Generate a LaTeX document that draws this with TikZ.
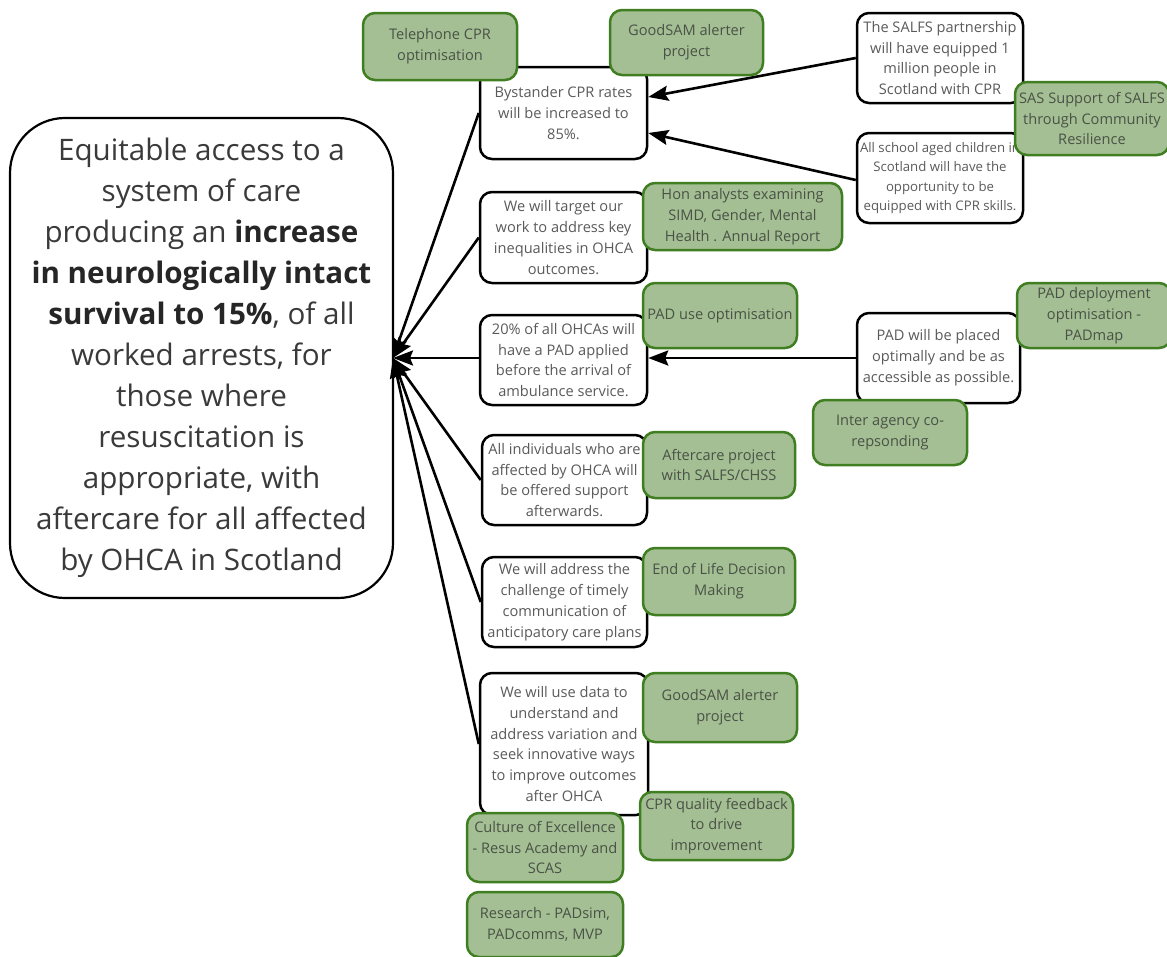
\documentclass[tikz,border=0pt]{standalone}
\usepackage{fontspec}
\setmainfont{Open Sans}
\usetikzlibrary{arrows.meta}
\definecolor{gfill}{HTML}{A4BF93}
\definecolor{gdraw}{HTML}{3F7F22}
\definecolor{wtext}{HTML}{5A5A5A}
\definecolor{gtext}{HTML}{4A5247}
\definecolor{mtext}{HTML}{3A3A3A}
\begin{document}
\begin{tikzpicture}[x=1pt,y=-1pt,
  box/.style={rounded corners=12pt, line width=2.5pt, align=center, inner sep=0pt,
    font=\fontsize{14.6}{20.8}\selectfont},
  wbox/.style={box, draw=black, fill=white, text=wtext},
  gbox/.style={box, draw=gdraw, fill=gfill, text=gtext},
  mainbox/.style={draw=black, fill=white, line width=2.2pt, rounded corners=55pt,
    align=center, text=mtext, font=\fontsize{29.6}{41}\selectfont},
  conn/.style={line width=2.6pt, -{Stealth[length=20pt,width=15pt,inset=3pt]}}]
\useasboundingbox (0,0) rectangle (1167,956);
\fill[white] (0,0) rectangle (1167,956);

% main box
\node[mainbox, minimum width=383pt, minimum height=480pt] (main) at (201.5,358)
 {Equitable access to a\\ system of care\\ producing an \textbf{\color{black!85}increase}\\
  \textbf{\color{black!85}in neurologically intact}\\ \textbf{\color{black!85}survival to 15\%}, of all\\
  worked arrests, for\\ those where\\ resuscitation is\\ appropriate, with\\
  aftercare for all affected\\ by OHCA in Scotland};
\coordinate (tip) at (393,358);

% white boxes
\node[wbox, minimum width=167pt, minimum height=92pt] (w1) at (563.5,113)
 {Bystander CPR rates\\ will be increased to\\ 85\%.};
\node[wbox, minimum width=167pt, minimum height=91pt] (w2) at (563.5,237.5)
 {We will target our\\ work to address key\\ inequalities in OHCA\\ outcomes.};
\node[wbox, minimum width=167pt, minimum height=90pt] (w3) at (563.5,360)
 {20\% of all OHCAs will\\ have a PAD applied\\ before the arrival of\\ ambulance service.};
\node[wbox, minimum width=165pt, minimum height=90pt] (w4) at (564.5,480)
 {All individuals who are\\ affected by OHCA will\\ be offered support\\ afterwards.};
\node[wbox, minimum width=165pt, minimum height=90pt] (w5) at (564.5,602)
 {We will address the\\ challenge of timely\\ communication of\\ anticipatory care plans};
\node[wbox, minimum width=168pt, minimum height=142pt] (w6) at (564,744)
 {We will use data to\\ understand and\\ address variation and\\ seek innovative ways\\ to improve outcomes\\ after OHCA};
\node[wbox, minimum width=166pt, minimum height=90pt] (w7) at (940,58)
 {The SALFS partnership\\ will have equipped 1\\ million people in\\ Scotland with CPR};
\node[wbox, minimum width=166pt, minimum height=90pt, font=\fontsize{13.2}{19.5}\selectfont] (w8) at (940,178)
 {All school aged children in\\ Scotland will have the\\ opportunity to be\\ equipped with CPR skills.};
\node[wbox, minimum width=163pt, minimum height=90pt] (w9) at (938.5,358)
 {PAD will be placed\\ optimally and be as\\ accessible as possible.};

% connectors
\draw[conn] (w1.west |- 0,113) -- (tip);
\draw[conn] (w2.west) -- (tip);
\draw[conn] (w3.west |- tip) -- (tip);
\draw[conn] (w4.west) -- (tip);
\draw[conn] (w5.west) -- (tip);
\draw[conn] (w6.west) -- (tip);
\draw[conn] (w7.west |- 0,58) -- (w1.east |- 0,97);
\draw[conn] (w8.west |- 0,180) -- (w1.east |- 0,133);
\draw[conn] (w9.west) -- (w3.east |- w9.west);

% green boxes
\node[gbox, minimum width=154pt, minimum height=67pt] (g1) at (440,46.5)
 {Telephone CPR\\ optimisation};
\node[gbox, minimum width=153pt, minimum height=65pt] (g2) at (686.5,42.5)
 {GoodSAM alerter\\ project};
\node[gbox, minimum width=154pt, minimum height=73pt] (g3) at (1092,118.5)
 {SAS Support of SALFS\\ through Community\\ Resilience};
\node[gbox, minimum width=199pt, minimum height=67pt] (g4) at (742.5,216.5)
 {Hon analysts examining\\ SIMD, Gender, Mental\\ Health . Annual Report};
\node[gbox, minimum width=154pt, minimum height=65pt] (g5) at (720,315.5)
 {PAD use optimisation};
\node[gbox, minimum width=154pt, minimum height=65pt] (g6) at (1094,315.5)
 {PAD deployment\\ optimisation -\\ PADmap};
\node[gbox, minimum width=154pt, minimum height=65pt] (g7) at (890,432.5)
 {Inter agency co-\\ repsonding};
\node[gbox, minimum width=152pt, minimum height=66pt] (g8) at (719,465)
 {Aftercare project\\ with SALFS/CHSS};
\node[gbox, minimum width=152pt, minimum height=67pt] (g9) at (719,581.5)
 {End of Life Decision\\ Making};
\node[gbox, minimum width=154pt, minimum height=69pt] (g10) at (720,707.5)
 {GoodSAM alerter\\ project};
\node[gbox, minimum width=153pt, minimum height=68pt] (g11) at (716.5,826)
 {CPR quality feedback\\ to drive\\ improvement};
\node[gbox, minimum width=156pt, minimum height=69pt] (g12) at (545,847.5)
 {Culture of Excellence\\ - Resus Academy and\\ SCAS};
\node[gbox, minimum width=156pt, minimum height=65pt] (g13) at (545,924.5)
 {Research - PADsim,\\ PADcomms, MVP};
\end{tikzpicture}
\end{document}
